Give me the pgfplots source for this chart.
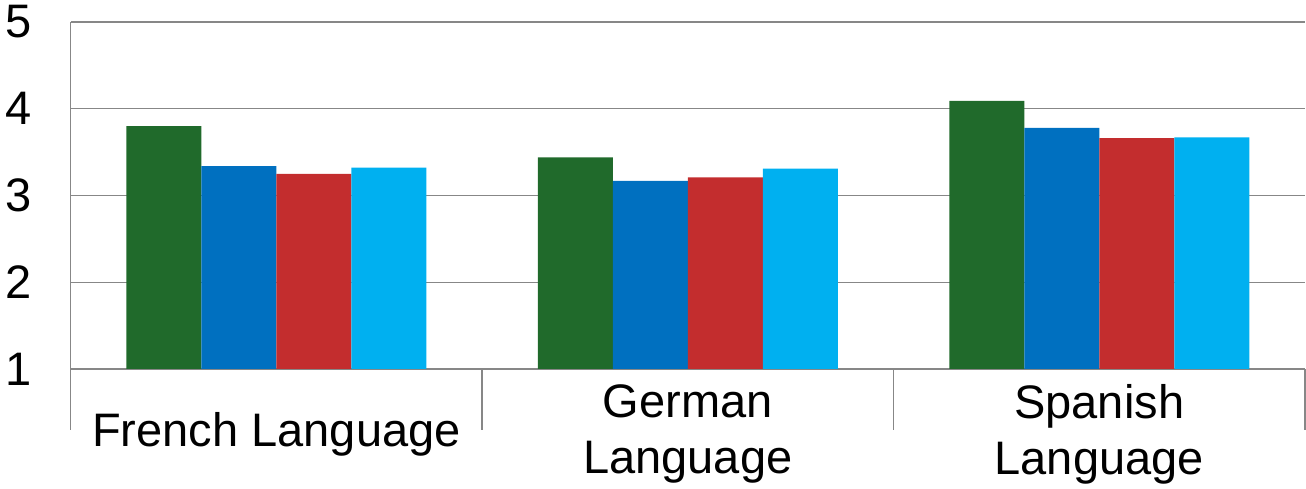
\documentclass[border=0pt]{standalone}
\usepackage{pgfplots}
\pgfplotsset{compat=1.18}
\usepackage{fontspec}
\setmainfont{Liberation Sans}
\definecolor{cgreen}{HTML}{206A2B}
\definecolor{cblue}{HTML}{0070C0}
\definecolor{cred}{HTML}{C32D2E}
\definecolor{ccyan}{HTML}{00B0F0}
\definecolor{cgrid}{HTML}{878787}
\begin{document}
\begin{tikzpicture}
\path[use as bounding box] (-70.75pt,-120pt) rectangle (1235.25pt,369pt);
\begin{axis}[
  at={(0pt,0pt)}, anchor=south west,
  scale only axis, width=1234.25pt, height=347pt,
  xmin=-0.5, xmax=2.5, ymin=1, ymax=5,
  ybar=0pt, bar width=75pt,
  axis x line=bottom, axis y line=left,
  axis line style={cgrid, line width=1.4pt, -},
  ytick={1,2,3,4,5},
  ymajorgrids, grid style={cgrid, line width=1.4pt},
  major tick length=0pt,
  xtick={0,1,2}, xticklabels={French Language,{German\\Language},{Spanish\\Language}},
  minor xtick={-0.5,0.5,1.5,2.5},
  minor tick length=61pt,
  tick align=outside,
  minor tick style={cgrid, line width=1.4pt},
  /pgf/number format/assume math mode=true,
  tick label style={font=\fontsize{47}{56}\selectfont, text=black},
  yticklabel style={anchor=east, xshift=-36pt},
  xticklabel style={anchor=center, align=center, yshift=-65pt},
]
\addplot[fill=cgreen, draw=none] coordinates {(0,3.80) (1,3.44) (2,4.09)};
\addplot[fill=cblue, draw=none] coordinates {(0,3.34) (1,3.17) (2,3.78)};
\addplot[fill=cred, draw=none] coordinates {(0,3.25) (1,3.21) (2,3.66)};
\addplot[fill=ccyan, draw=none] coordinates {(0,3.32) (1,3.31) (2,3.67)};
\end{axis}
\end{tikzpicture}
\end{document}
